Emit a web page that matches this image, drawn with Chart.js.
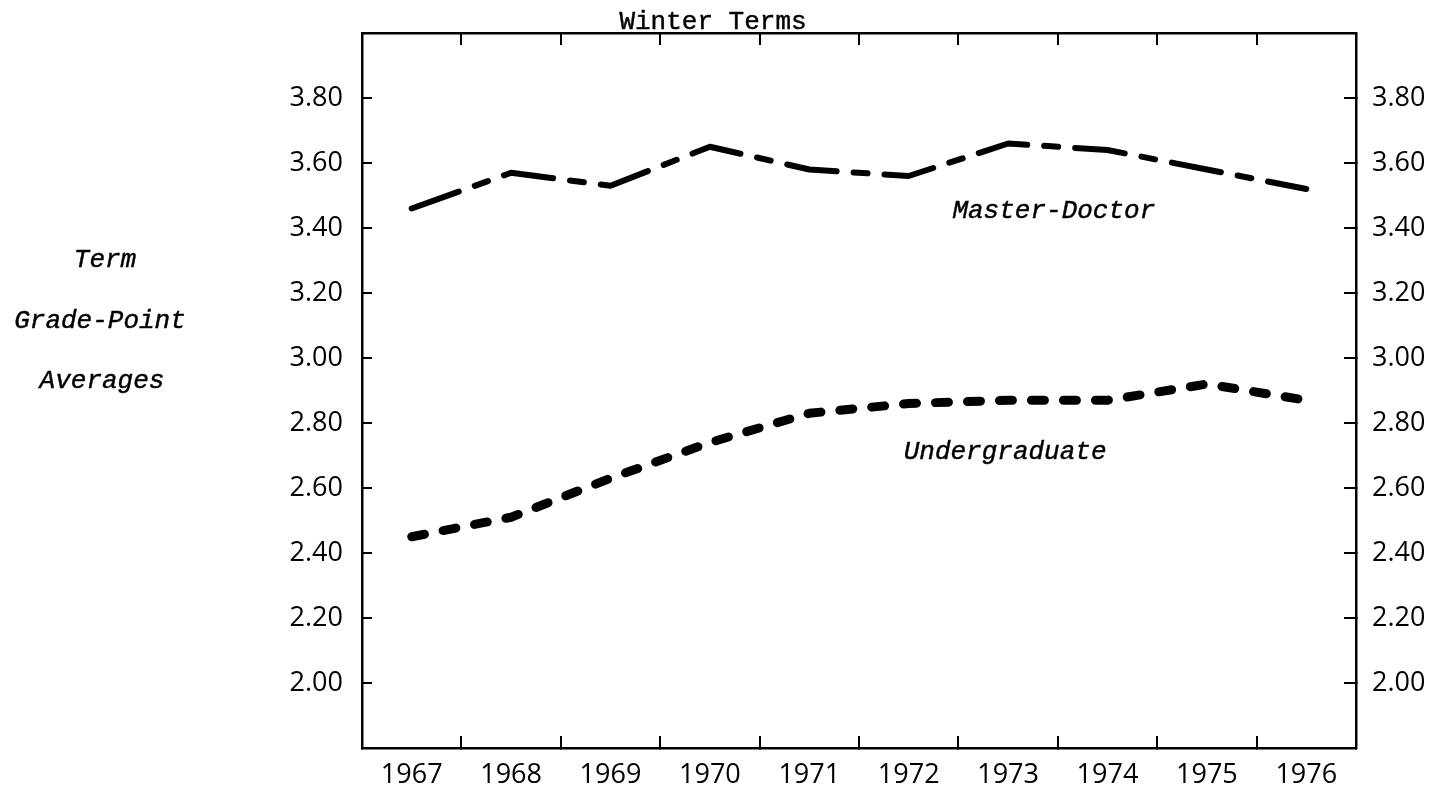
<!DOCTYPE html>
<html>
<head>
<meta charset="utf-8">
<script src="https://cdn.jsdelivr.net/npm/chart.js@4/dist/chart.umd.min.js"></script>
<style>
html,body{margin:0;padding:0;background:#fff;}
canvas{display:block;}
</style>
</head>
<body>
<canvas id="c" width="1440" height="787"></canvas>
<script>
// ---- data ----
const years = ['1967','1968','1969','1970','1971','1972','1973','1974','1975','1976'];
const masterDoctor  = [3.46, 3.57, 3.53, 3.65, 3.58, 3.56, 3.66, 3.64, 3.58, 3.52];
const undergraduate = [2.45, 2.51, 2.63, 2.74, 2.83, 2.86, 2.87, 2.87, 2.92, 2.87];
const yTickLabels = ['2.00','2.20','2.40','2.60','2.80','3.00','3.20','3.40','3.60','3.80'];
const titleText = 'Winter Terms';
const yTitleLines = ['Term', 'Grade-Point', 'Averages'];
const seriesNames = ['Master-Doctor', 'Undergraduate'];

const tickFont = {family: '"Open Sans", "DejaVu Sans", sans-serif', size: 27};

function yLabel(v) {
  const s = Number(v).toFixed(2);
  return yTickLabels.includes(s) ? s : null;
}

function drawText(ctx, t, x, y) {
  ctx.fillText(t, x, y);
  ctx.strokeText(t, x, y);
}

const annotations = {
  id: 'annotations',
  afterDraw(chart) {
    const ctx = chart.ctx;
    const xs = chart.scales.x, ys = chart.scales.y;
    ctx.save();
    ctx.fillStyle = '#000';
    ctx.strokeStyle = '#000';
    ctx.lineWidth = 0.45;
    ctx.textBaseline = 'alphabetic';
    ctx.textAlign = 'center';
    ctx.font = '26px "Liberation Mono", monospace';
    drawText(ctx, titleText, 713, 29);
    ctx.font = 'italic 26px "Liberation Mono", monospace';
    const yt = [267, 328, 388];
    const xt = [105, 100, 102];
    yTitleLines.forEach((t, i) => drawText(ctx, t, xt[i], yt[i]));
    drawText(ctx, seriesNames[0], xs.getPixelForValue(6.46), ys.getPixelForValue(3.431));
    drawText(ctx, seriesNames[1], xs.getPixelForValue(5.97), ys.getPixelForValue(2.689));
    ctx.restore();
  }
};

const gridBase = {display: true, drawOnChartArea: false, drawTicks: true, color: '#000', lineWidth: 2};
const borderBase = {display: true, color: '#000', width: 2.5};

function noPad(s) {
  s.paddingTop = 0; s.paddingBottom = 0; s.paddingLeft = 0; s.paddingRight = 0;
}

new Chart(document.getElementById('c'), {
  type: 'line',
  data: {
    labels: years,
    datasets: [
      {
        label: seriesNames[0],
        data: masterDoctor,
        borderColor: '#000',
        borderWidth: 6,
        borderDash: [50, 17, 14, 17],
        borderCapStyle: 'round',
        borderJoinStyle: 'round',
        pointRadius: 0,
        tension: 0,
        fill: false
      },
      {
        label: seriesNames[1],
        data: undergraduate,
        borderColor: '#000',
        borderWidth: 9,
        borderDash: [13, 19],
        borderCapStyle: 'round',
        borderJoinStyle: 'round',
        pointRadius: 0,
        tension: 0,
        fill: false
      }
    ]
  },
  options: {
    responsive: false,
    animation: false,
    events: [],
    layout: {padding: {top: 33, left: 0, right: 0, bottom: 0}},
    plugins: {legend: {display: false}, tooltip: {enabled: false}, title: {display: false}},
    scales: {
      x: {
        type: 'category', position: 'bottom', offset: true,
        grid: Object.assign({}, gridBase, {offset: true, tickLength: -12}),
        border: borderBase,
        ticks: {font: tickFont, color: '#000', padding: 23, maxRotation: 0, minRotation: 0, autoSkip: false},
        afterFit(s) { s.height = 39; noPad(s); }
      },
      xTop: {
        type: 'category', position: 'top', offset: true,
        grid: Object.assign({}, gridBase, {offset: true, tickLength: -12}),
        border: borderBase,
        ticks: {display: false},
        afterFit(s) { s.height = 0; noPad(s); }
      },
      y: {
        type: 'linear', position: 'left', min: 1.8, max: 4.0,
        grid: Object.assign({}, gridBase, {tickLength: -10}),
        border: borderBase,
        ticks: {stepSize: 0.2, font: tickFont, color: '#000', padding: 29, callback: yLabel, autoSkip: false},
        afterFit(s) { s.width = 362; noPad(s); }
      },
      y2: {
        type: 'linear', position: 'right', min: 1.8, max: 4.0,
        grid: Object.assign({}, gridBase, {tickLength: -12}),
        border: borderBase,
        ticks: {stepSize: 0.2, font: tickFont, color: '#000', padding: 28, callback: yLabel, autoSkip: false},
        afterFit(s) { s.width = 84; noPad(s); }
      }
    }
  },
  plugins: [annotations]
});
</script>
</body>
</html>
